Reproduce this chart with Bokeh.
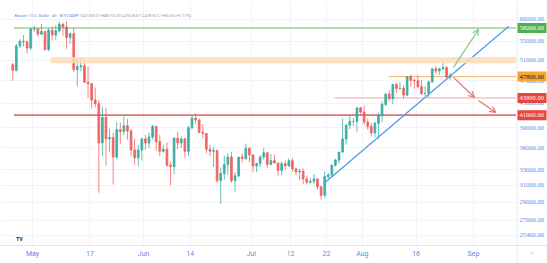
import math
import pandas as pd
from bokeh.plotting import figure
from bokeh.layouts import row
from bokeh.models import (Range1d, FixedTicker, CustomJSTickFormatter, Grid,
                          Label, Arrow, OpenHead, BoxAnnotation, ColumnDataSource)
from bokeh.embed import file_html
from bokeh.resources import INLINE

# ---------------- data (daily BTC/USD, 2021-04-25 .. 2021-08-25) ----------------
first_day = "2021-04-25"
opens = [50100, 49000, 54000, 55000, 54850, 53550,
         57750, 57800, 56600, 57200, 53250, 57500, 56400, 57350, 58850, 58250, 55850, 56700, 49150, 49700, 49900, 46750,
         46450, 43550, 42900, 36700, 40600, 37300, 37500, 34700, 38700, 38400, 39300, 38500, 35700, 34600, 35700,
         37300, 36700, 37600, 39200, 36900, 35500, 35800, 33600, 33400, 37400, 36700, 37300, 35500, 39000, 40500,
         40200, 38300, 38100, 35800, 35500, 35600, 31600, 32500, 33700, 34700, 31600, 32200, 34700, 34500, 35900,
         35000, 33500, 33800, 34700, 35300, 33700, 34200, 33900, 32900, 33800, 33500, 34200, 33100, 32700, 32800,
         31800, 31400, 31500, 31800, 30800, 29800, 32100, 32300, 33600, 34300, 35400, 37300, 39400, 40000, 40000, 42200,
         41500, 39900, 39200, 38200, 39700, 40900, 42800, 44600, 43800, 46300, 45600, 45600, 44400, 47800, 47100,
         47000, 45900, 44700, 44700, 46800, 49300, 48900, 49300, 49550, 47700]
highs = [50500, 54400, 55500, 56400, 55200, 58000,
         58500, 57950, 58950, 57200, 57900, 58350, 58650, 59500, 59250, 59550, 56900, 58000, 51300, 51550, 50700, 49750,
         46600, 45800, 43550, 42450, 42200, 38850, 38250, 39900, 39800, 40800, 40400, 38800, 37300, 36400, 37500,
         37900, 38200, 39450, 39300, 37900, 36450, 36800, 34050, 37550, 38350, 37650, 37450, 39350, 40950, 41300,
         40450, 39550, 38200, 36450, 36100, 35750, 33300, 34850, 35250, 35450, 32700, 34700, 35250, 36600, 36100,
         35050, 33900, 34950, 35950, 35300, 35100, 35050, 33900, 34100, 34250, 34550, 34600, 33300, 33100, 33150,
         32250, 31950, 32400, 31850, 31000, 32800, 32550, 33650, 34450, 35400, 40500, 39500, 40850, 40600, 42300, 42400,
         42600, 40450, 39750, 39950, 41400, 43350, 44700, 45300, 46450, 46650, 46750, 46200, 47900, 48150, 47400,
         48000, 47150, 46000, 47050, 49350, 49800, 49500, 50500, 49850, 48500]
lows = [47000, 48800, 53600, 53900, 52400, 53100,
        57050, 56050, 56450, 53050, 52900, 55200, 55250, 56950, 56250, 53400, 54450, 48700, 46000, 48800, 46650, 43850,
        42100, 42250, 30100, 34850, 33500, 35350, 31100, 34400, 36500, 37850, 37200, 34800, 33650, 33400, 34200,
        35700, 35950, 37200, 35600, 34800, 35300, 33350, 31000, 32400, 35800, 35950, 34650, 34800, 38750, 39550,
        38100, 37400, 35200, 34850, 33350, 31300, 28800, 31700, 32350, 31300, 30200, 32000, 33900, 34250, 34000,
        32700, 32700, 33350, 34350, 33200, 33550, 33800, 32150, 32300, 33050, 33350, 32700, 32250, 31650, 31150,
        31100, 31200, 31150, 30450, 29300, 29500, 31750, 32000, 33400, 33850, 35250, 36450, 38800, 39250, 38350, 41050,
        39450, 38700, 37650, 37550, 37300, 39900, 42500, 43300, 42800, 44700, 45350, 43800, 44200, 45950, 45550,
        45700, 44400, 44250, 43950, 46650, 48300, 48150, 49050, 47600, 47200]
closes = [49000, 54000, 55000, 54850, 53550, 57750,
          57800, 56600, 57200, 53250, 57500, 56400, 57350, 58850, 58250, 55850, 56700, 49150, 49700, 49900, 46750, 46450,
          43550, 42900, 36700, 40600, 37300, 37500, 34700, 38700, 38400, 39300, 38500, 35700, 34600, 35700, 37300,
          36700, 37600, 39200, 36900, 35500, 35800, 33600, 33400, 37400, 36700, 37300, 35500, 39000, 40500, 40200,
          38300, 38100, 35800, 35500, 35600, 31600, 32500, 33700, 34700, 31600, 32200, 34700, 34500, 35900, 35000,
          33500, 33800, 34700, 35300, 33700, 34200, 33900, 32900, 33800, 33500, 34200, 33100, 32700, 32800, 31800,
          31400, 31500, 31800, 30800, 29800, 32100, 32300, 33600, 34300, 35400, 37300, 39400, 40000, 40000, 42200, 41500,
          39900, 39200, 38200, 39700, 40900, 42800, 44600, 43800, 46300, 45600, 45600, 44400, 47800, 47100, 47000,
          45900, 44700, 44700, 46800, 49300, 48900, 49300, 49550, 47700, 48100]

# horizontal levels
level_prices = [58000, 47800, 43900, 41000]
level_starts = ["2021-04-25 20:00", "2021-08-08 08:00", "2021-07-24 05:00", "2021-04-25 20:00"]
level_colors = ["#66bb6a", "#f6b26b", "#f4a3a3", "#e57373"]
level_widths = [1, 1, 1, 1.6]
label_fill = ["#4caf50", "#f7a531", "#e5463f", "#e5463f"]
label_text = ["#ffffff", "#1b1b1b", "#ffffff", "#ffffff"]

band_start = "2021-05-06 00:00"
band_low, band_high = 50400, 51700

trend_dates = ["2021-07-21 05:00", "2021-09-10 20:00"]
trend_prices = [31200, 58400]

arrow_start_dates = ["2021-08-26 10:00", "2021-08-26 10:00", "2021-09-02 10:00"]
arrow_start_prices = [49570, 47640, 43470]
arrow_end_dates = ["2021-09-02 10:00", "2021-09-01 07:00", "2021-09-07 05:00"]
arrow_end_prices = [57660, 43990, 41450]
arrow_colors = ["#81c784", "#e57373", "#e57373"]

ytick_values = [25400, 27000, 29000, 31000, 33000, 36000, 39000, 43000, 47000, 51000, 55000, 60000]
xtick_dates = ["2021-05-01", "2021-05-17", "2021-06-01", "2021-06-14", "2021-07-01",
               "2021-07-12", "2021-07-22", "2021-08-01", "2021-08-16", "2021-09-01"]

# ---------------- build ----------------
def ms(s):
    return pd.Timestamp(s).value / 1e6

AXIS_BLUE = "#5a8de6"
FONT = "Roboto"
DAY = 86400000.0
W_MAIN, W_SIDE, H, BOTTOM = 516, 31, 263, 18
Y_TOP, Y_BOT = 64710, 24400

days = pd.date_range(first_day, periods=len(closes), freq="D") + pd.Timedelta(hours=12)
col = ["#26a69a" if c >= o else "#ef5350" for o, c in zip(opens, closes)]
src = ColumnDataSource(dict(t=days, o=opens, h=highs, l=lows, c=closes,
                            top=[max(o, c) for o, c in zip(opens, closes)],
                            bot=[min(o, c) for o, c in zip(opens, closes)], col=col))

x_start = pd.Timestamp("2021-04-22 02:00")
x_end = pd.Timestamp("2021-09-13 00:00")
yr = Range1d(Y_BOT, Y_TOP)
p = figure(frame_width=W_MAIN, frame_height=H - BOTTOM, x_axis_type="datetime", y_axis_type="log",
           x_range=Range1d(x_start, x_end), y_range=yr,
           y_axis_location=None, toolbar_location=None, output_backend="svg",
           min_border_left=0, min_border_top=0, min_border_right=0, min_border_bottom=BOTTOM)
p.outline_line_color = None
p.border_fill_color = "#ffffff"

yt = FixedTicker(ticks=ytick_values)
if len(p.ygrid) > 0:
    p.ygrid.ticker = yt
else:
    p.add_layout(Grid(dimension=1, ticker=yt))
xt = FixedTicker(ticks=[ms(d) for d in xtick_dates])
p.xaxis.ticker = xt
p.xgrid.ticker = xt
p.xaxis.formatter = CustomJSTickFormatter(code="""
const d = new Date(tick);
const m = ['Jan','Feb','Mar','Apr','May','Jun','Jul','Aug','Sep','Oct','Nov','Dec'];
return d.getUTCDate() === 1 ? m[d.getUTCMonth()] : String(d.getUTCDate());
""")
p.xaxis.axis_line_color = "#e0e3eb"
p.xaxis.major_tick_line_color = None
p.xaxis.minor_tick_line_color = None
p.xaxis.major_tick_out = 0
p.xaxis.major_tick_in = 0
p.xaxis.minor_tick_out = 0
p.xaxis.major_label_text_font = FONT
p.xaxis.major_label_text_color = AXIS_BLUE
p.xaxis.major_label_text_font_size = "7px"
p.xaxis.major_label_standoff = 4
for g in p.grid:
    g.grid_line_color = "#f0f3fa"

# band
p.add_layout(BoxAnnotation(left=ms(band_start), bottom=band_low, top=band_high,
                           fill_color="#fddcb5", fill_alpha=0.85, line_color=None))

# levels
for pr, st, lc, lw in zip(level_prices, level_starts, level_colors, level_widths):
    p.segment(x0=[ms(st)], y0=[pr], x1=[x_end.value / 1e6], y1=[pr], line_color=lc, line_width=lw)

# candles
p.segment("t", "h", "t", "l", source=src, line_color="col", line_width=1, line_alpha=0.7)
p.vbar(x="t", width=DAY * 0.5, top="top", bottom="bot", source=src,
       fill_color="col", line_color="col", fill_alpha=0.7, line_alpha=0.7)

# trend line
p.line([pd.Timestamp(d) for d in trend_dates], trend_prices, line_color="#5b9be8", line_width=1.4)

# arrows
for xs, ys, xe, ye, c in zip(arrow_start_dates, arrow_start_prices, arrow_end_dates, arrow_end_prices, arrow_colors):
    p.add_layout(Arrow(x_start=ms(xs), y_start=ys, x_end=ms(xe), y_end=ye, line_color=c, line_width=1.2,
                       end=OpenHead(size=6, line_color=c, line_width=1.2)))

# legend line at the top
anchor_x = ms("2021-04-25 23:30")
p.add_layout(Label(x=anchor_x, y=60960, text="Bitcoin / U.S. Dollar · 4h · BITSTAMP",
                   text_font=FONT, text_font_size="4px", text_color=AXIS_BLUE, text_baseline="middle"))
p.add_layout(Label(x=anchor_x, y=60960, x_offset=66,
                   text="O47738.07 H48110.00 L47628.67 C47818.12 +80.05 (+0.17%)",
                   text_font=FONT, text_font_size="4px", text_color="#9598a1", text_baseline="middle"))
p.add_layout(Label(x=ms("2021-04-26 12:00"), y=25000, text="TV", text_font=FONT,
                   text_font_size="5px", text_font_style="bold", text_color="#131722", text_baseline="middle"))

# ---------------- price scale (right side) ----------------
px_per_log = (H - BOTTOM) / math.log(Y_TOP / Y_BOT)
side_bottom = Y_BOT * math.exp(-BOTTOM / px_per_log)
s = figure(frame_width=W_SIDE, frame_height=H, y_axis_type="log", x_range=Range1d(0, W_SIDE),
           y_range=Range1d(side_bottom, Y_TOP), x_axis_location=None, y_axis_location=None,
           toolbar_location=None, output_backend="svg",
           min_border_left=0, min_border_top=0, min_border_right=0, min_border_bottom=0)
s.outline_line_color = None
s.grid.visible = False
s.segment(x0=[0.5], y0=[side_bottom], x1=[0.5], y1=[Y_TOP], line_color="#e0e3eb", line_width=1)
s.segment(x0=[0], y0=[Y_BOT], x1=[W_SIDE], y1=[Y_BOT], line_color="#e0e3eb", line_width=1)
s.text(x=[3] * len(ytick_values), y=ytick_values, text=[f"{v:.2f}" for v in ytick_values],
       text_font=FONT, text_font_size="6.5px", text_color=AXIS_BLUE,
       text_align="left", text_baseline="middle")
s.rect(x=[15.5] * len(level_prices), y=level_prices, width=29, height=10, height_units="screen",
       fill_color=label_fill, line_color=None)
s.text(x=[3] * len(level_prices), y=level_prices, text=[f"{v:.2f}" for v in level_prices],
       text_font=FONT, text_font_size="6.5px", text_color=label_text,
       text_align="left", text_baseline="middle")
s.text(x=[15.5], y=[Y_BOT * math.exp(-7 / px_per_log)], text=["○"], text_font=FONT,
       text_font_size="6px", text_color="#9598a1", text_align="center", text_baseline="middle")

layout = row(p, s, spacing=0)
open("out.html", "w").write(file_html(layout, INLINE))
